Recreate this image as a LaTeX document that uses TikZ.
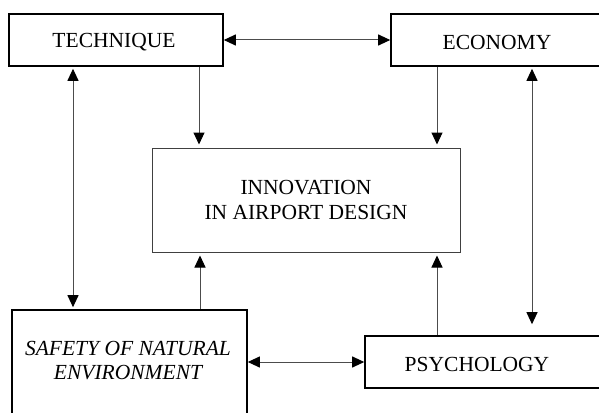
\documentclass[tikz,border=0pt]{standalone}
\usepackage{fontspec}
\setmainfont{Liberation Serif}
\usetikzlibrary{arrows.meta,calc}
\begin{document}
\begin{tikzpicture}[x=1pt,y=-1pt,
  txt/.style={inner sep=0pt,align=center,font=\fontsize{21.5}{25}\selectfont},
  box/.style={draw=black,line width=1.6pt,rectangle,inner sep=0pt},
  thinbox/.style={draw=black!75,line width=1pt,rectangle,inner sep=0pt,align=center,font=\fontsize{21.5}{25}\selectfont},
  conn/.style={draw=black!70,line width=1pt,-{Triangle[length=12pt,width=11pt,color=black]}},
  dconn/.style={draw=black!70,line width=1pt,{Triangle[length=12pt,width=11pt,color=black]}-{Triangle[length=12pt,width=11pt,color=black]}}]
\useasboundingbox (0,0) rectangle (599,412);
\node[box,minimum width=214pt,minimum height=52pt] (tech) at (116,40) {};
\node[txt] (techt) at (114,42) {TECHNIQUE};
\node[box,minimum width=219pt,minimum height=52pt] (econ) at (500.5,40) {};
\node[txt] (econt) at (497,42) {ECONOMY};
\node[thinbox,minimum width=308pt,minimum height=104pt] (inno) at (306,200) {INNOVATION\\IN AIRPORT DESIGN};
\node[box,minimum width=235pt,minimum height=120pt] (safe) at (129.5,370) {};
\node[txt,font=\fontsize{21.5}{24}\selectfont\itshape] (safet) at (128,361) {SAFETY OF NATURAL\\ENVIRONMENT};
\node[box,minimum width=245pt,minimum height=52pt] (psy) at (487.5,362) {};
\node[txt] (psyt) at (477,364) {PSYCHOLOGY};
% top horizontal
\draw[dconn] (tech.east) -- (econ.west);
% down into innovation
\draw[conn,shorten >=3pt] ([xshift=83pt]tech.south) -- ([xshift=83pt]tech.south |- inno.north);
\draw[conn,shorten >=3pt] ([xshift=-63.5pt]econ.south) -- ([xshift=-63.5pt]econ.south |- inno.north);
% up into innovation
\draw[conn,shorten >=3pt] ([xshift=70.5pt]safe.north) -- ([xshift=70.5pt]safe.north |- inno.south);
\draw[conn,shorten >=3pt] ([xshift=-50.5pt]psy.north) -- ([xshift=-50.5pt]psy.north |- inno.south);
% verticals on the sides
\draw[dconn,shorten <=2pt,shorten >=2pt] ([xshift=-43pt]tech.south) -- ([xshift=-43pt]tech.south |- safe.north);
\draw[dconn,shorten <=2pt,shorten >=11pt] ([xshift=31.5pt]econ.south) -- ([xshift=31.5pt]econ.south |- psy.north);
% bottom horizontal
\draw[dconn] (psy.west -| safe.east) -- (psy.west);
\end{tikzpicture}
\end{document}
